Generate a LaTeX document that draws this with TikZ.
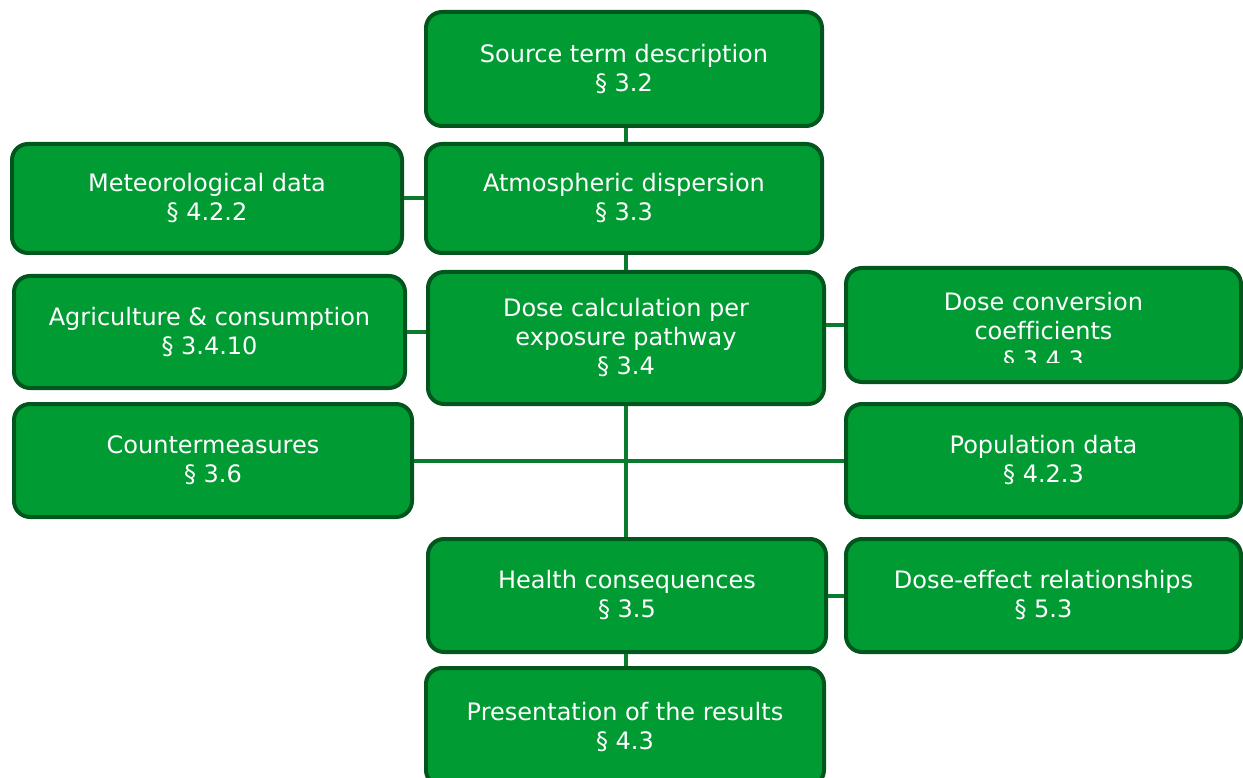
\documentclass[tikz,border=0pt]{standalone}
\usepackage{fontspec}
\setmainfont{DejaVu Sans}[Ligatures=NoCommon]
\definecolor{boxfill}{HTML}{009C33}
\definecolor{boxdraw}{HTML}{00561C}
\definecolor{linkcol}{HTML}{0A7A2C}
\tikzset{
  box/.style={draw=boxdraw, fill=boxfill, line width=4pt, rounded corners=16pt,
    text=white, align=center, inner sep=0pt, minimum width=#1,
    font=\fontsize{24}{29}\selectfont},
  link/.style={draw=linkcol, line width=4pt}
}
\begin{document}
\begin{tikzpicture}[x=1pt,y=-1pt]
\useasboundingbox (0,0) rectangle (1243,778);
\node[box=396pt, minimum height=114pt] (src) at (624,69) {Source term description\\§ 3.2};
\node[box=396pt, minimum height=109pt] (atm) at (624,198.5) {Atmospheric dispersion\\§ 3.3};
\node[box=390pt, minimum height=109pt] (met) at (207,198.5) {Meteorological data\\§ 4.2.2};
\node[box=391pt, minimum height=112pt] (agr) at (209.5,332) {Agriculture \& consumption\\§ 3.4.10};
\node[box=396pt, minimum height=132pt] (dose) at (626,338) {Dose calculation per\\exposure pathway\\§ 3.4};
\node[box=395pt, minimum height=114pt] (conv) at (1043.5,325) {};
\begin{scope}
\clip (850,272) rectangle (1237,362);
\node[text=white, align=center, inner sep=0pt, font=\fontsize{24}{29}\selectfont] (convtext) at (1043.5,332) {Dose conversion\\coefficients\\§ 3.4.3};
\end{scope}
\node[box=398pt, minimum height=113pt] (cm) at (213,460.5) {Countermeasures\\§ 3.6};
\node[box=395pt, minimum height=113pt] (pop) at (1043.5,460.5) {Population data\\§ 4.2.3};
\node[box=398pt, minimum height=113pt] (hea) at (627,595.5) {Health consequences\\§ 3.5};
\node[box=395pt, minimum height=113pt] (eff) at (1043.5,595.5) {Dose-effect relationships\\§ 5.3};
\node[box=398pt, minimum height=118pt] (pres) at (625,727) {Presentation of the results\\§ 4.3};
% connectors
\draw[link] ([xshift=2pt]src.south) -- ([xshift=2pt]atm.north);
\draw[link] ([xshift=2pt]atm.south) -- (dose.north);
\draw[link] (met.east) -- (atm.west);
\draw[link] (agr.east) -- (agr.east -| dose.west);
\draw[link] (dose.east |- conv.west) -- (conv.west);
\draw[link] (dose.south) -- (dose.south |- hea.north);
\draw[link] (cm.east) -- (pop.west);
\draw[link] (hea.east) -- (eff.west);
\draw[link] ([xshift=-1pt]hea.south) -- ([xshift=1pt]pres.north);
\end{tikzpicture}
\end{document}
